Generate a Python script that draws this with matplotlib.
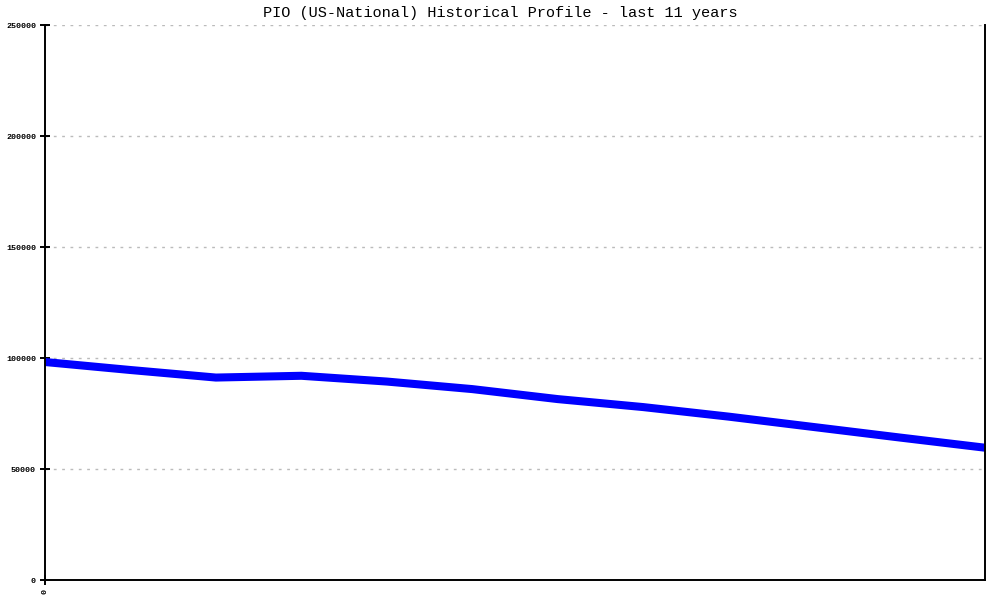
import matplotlib
matplotlib.use("Agg")
import matplotlib.pyplot as plt

# yearly values (11 years -> 12 points)
years = list(range(12))
population = [98200, 94600, 91200, 92000, 89400, 86000,
              81500, 77900, 73600, 68900, 64200, 59600]
y_ticks = [0, 50000, 100000, 150000, 200000, 250000]
title = "PIO (US-National) Historical Profile - last 11 years"

fig = plt.figure(figsize=(10, 6), dpi=100)
ax = fig.add_axes([0.045, 0.0333, 0.94, 0.925])

ax.plot(years, population, color="#0000ff", linewidth=5.8, solid_capstyle="butt")

ax.set_xlim(0, 11)
ax.set_ylim(0, 250000)
ax.set_yticks(y_ticks)
ax.set_yticklabels([str(v) for v in y_ticks], family="Liberation Mono",
                   fontsize=6, fontweight="bold")
ax.set_xticks([0])
ax.set_xticklabels(["0"], family="Liberation Mono", fontsize=6,
                   fontweight="bold", rotation=90)

ax.grid(axis="y", color="#bbbbbb", linestyle=(0, (2, 4)), linewidth=1)
ax.set_axisbelow(True)
ax.spines["top"].set_visible(False)
for side in ("left", "right", "bottom"):
    ax.spines[side].set_linewidth(1.4)
ax.tick_params(axis="both", direction="inout", length=7, width=1.4, pad=3)

fig.text(0.5, 0.978, title, ha="center", va="center",
         family="Liberation Mono", fontsize=11)

fig.savefig("out.png", dpi=100)
plt.close(fig)
